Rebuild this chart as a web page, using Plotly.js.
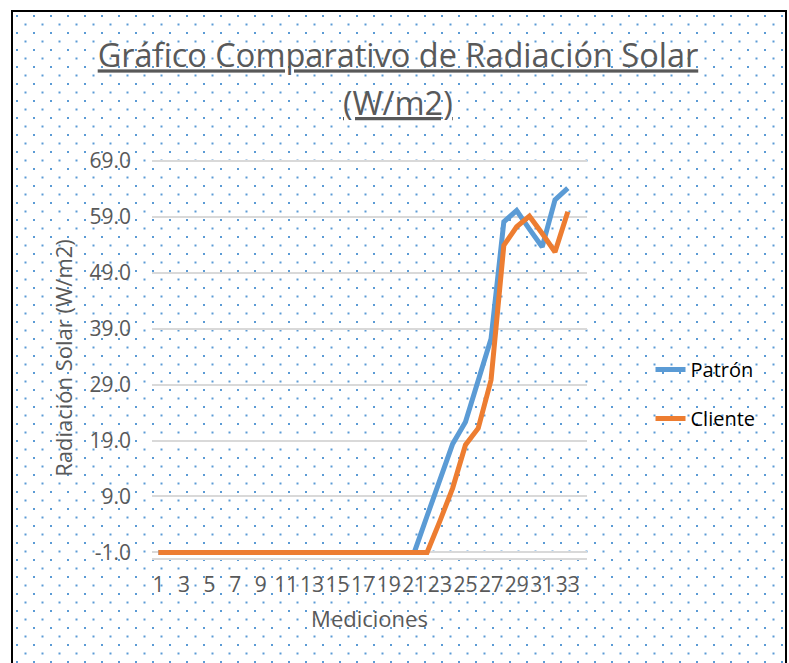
<!DOCTYPE html>
<html>
<head>
<meta charset="utf-8">
<script src="https://cdn.plot.ly/plotly-3.0.1.min.js"></script>
<style>
  html, body { margin: 0; padding: 0; width: 789px; height: 663px; overflow: hidden; background: #ffffff; }
  #frame { position: absolute; left: 11px; top: 10px; width: 772px; height: 700px; border: 2px solid #000;
           border-bottom: none;
           background-color: #ffffff;
           background-image: url("data:image/svg+xml;utf8,<svg xmlns='http://www.w3.org/2000/svg' width='17' height='17'><rect x='0' y='0' width='2' height='2' fill='%235b9bd5'/><rect x='8.5' y='8.5' width='2' height='2' fill='%235b9bd5'/></svg>");
           background-size: 17px 17px; background-position: 3px 3px; }
  #chart { position: absolute; left: 0; top: 0; width: 789px; height: 663px; }
</style>
</head>
<body>
<div id="frame"></div>
<div id="chart"></div>
<script>
// Data
const mediciones = [1,2,3,4,5,6,7,8,9,10,11,12,13,14,15,16,17,18,19,20,21,22,23,24,25,26,27,28,29,30,31,32,33];
const patron = [-1,-1,-1,-1,-1,-1,-1,-1,-1,-1,-1,-1,-1,-1,-1,-1,-1,-1,-1,-1,-1,
                5.5,12.0,18.4,22.3,29.5,37.2,58.1,60.1,56.8,53.6,62.0,64.1];
const cliente = [-1,-1,-1,-1,-1,-1,-1,-1,-1,-1,-1,-1,-1,-1,-1,-1,-1,-1,-1,-1,-1,-1,
                 4.6,10.5,18.2,21.2,29.8,53.9,57.2,59.1,56.0,52.7,59.9];
const seriesNames = ["Patrón", "Cliente"];
const yTicks = [-1, 9, 19, 29, 39, 49, 59, 69];
const xTicks = [1, 3, 5, 7, 9, 11, 13, 15, 17, 19, 21, 23, 25, 27, 29, 31, 33];
const titleLine1 = "Gráfico Comparativo de Radiación Solar";
const titleLine2 = "(W/m2)";
const xTitle = "Mediciones";
const yTitle = "Radiación Solar (W/m2)";

const FONT = "Open Sans, sans-serif";
const GRAY = "#595959";

const traces = [
  { x: mediciones, y: patron, name: seriesNames[0], type: "scatter", mode: "lines",
    line: { color: "#5b9bd5", width: 5 }, legendgroup: "a" },
  { x: mediciones, y: cliente, name: seriesNames[1], type: "scatter", mode: "lines",
    line: { color: "#ed7d31", width: 5 }, legendgroup: "b" }
];

const layout = {
  width: 789, height: 663,
  paper_bgcolor: "rgba(0,0,0,0)", plot_bgcolor: "rgba(0,0,0,0)",
  margin: { l: 152, r: 202, t: 158.3, b: 105, pad: 0 },
  font: { family: FONT, color: GRAY },
  title: {
    text: "<u>" + titleLine1 + "</u>",
    font: { family: FONT, size: 32.5, color: GRAY },
    xref: "container", x: 0.5044, xanchor: "center",
    yref: "container", y: 1 - 56 / 663, yanchor: "middle"
  },
  annotations: [{
    text: "<u>" + titleLine2 + "</u>", showarrow: false,
    xref: "paper", yref: "paper", x: (398 - 152) / 435, y: (558 - 103) / 399.7,
    xanchor: "center", yanchor: "middle",
    font: { family: FONT, size: 32.5, color: GRAY }
  }],
  xaxis: {
    range: [0.5, 34.5], tickmode: "array", tickvals: xTicks, ticktext: xTicks.map(String),
    tickangle: 0,
    showgrid: false, zeroline: false,
    showline: true, linecolor: "#d9d9d9", linewidth: 2,
    ticks: "", ticklabelstandoff: 7,
    tickfont: { family: FONT, size: 21, color: GRAY },
    title: { text: xTitle, font: { family: FONT, size: 22, color: GRAY }, standoff: 14 },
    fixedrange: true
  },
  yaxis: {
    range: [-2, 69.5], tickmode: "array", tickvals: yTicks, ticktext: yTicks.map(v => v.toFixed(1)),
    showgrid: true, gridcolor: "#d9d9d9", gridwidth: 2,
    zeroline: false, showline: false, ticks: "", ticklabelstandoff: 20,
    tickfont: { family: FONT, size: 21, color: GRAY },
    title: { text: yTitle, font: { family: FONT, size: 22, color: GRAY }, standoff: 10 },
    fixedrange: true
  },
  showlegend: true,
  legend: {
    x: 1.146, xanchor: "left", y: 0.52, yanchor: "top",
    bgcolor: "rgba(0,0,0,0)", tracegroupgap: 20, traceorder: "grouped",
    font: { family: FONT, size: 20, color: "#000000" }
  }
};

Plotly.newPlot("chart", traces, layout, { displayModeBar: false, staticPlot: true });
</script>
</body>
</html>
